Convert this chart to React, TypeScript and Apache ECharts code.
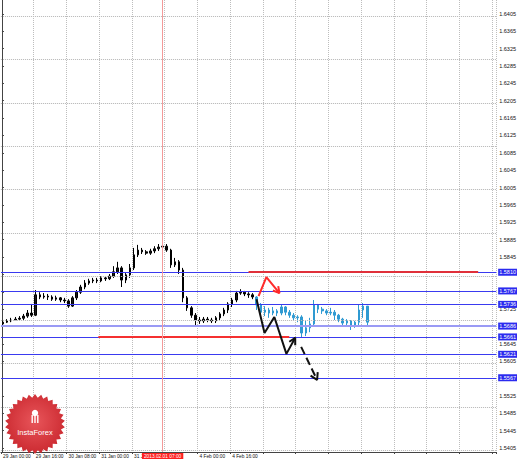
import React, { useEffect, useRef } from "react";
import * as echarts from "echarts";

// ---- data ----
const yTicks = [
  1.5405, 1.5445, 1.5485, 1.5525, 1.5565, 1.5605, 1.5645, 1.5685, 1.5725, 1.5765,
  1.5805, 1.5845, 1.5885, 1.5925, 1.5965, 1.6005, 1.6045, 1.6085, 1.6125, 1.6165,
  1.6205, 1.6245, 1.6285, 1.6325, 1.6365, 1.6405,
];
// tick labels that are hidden behind the level tags in the reference
const yHiddenLabels = [1.5565, 1.5685, 1.5765, 1.5805];
const xTickLabels = [
  "29 Jan 00:00", "29 Jan 16:00", "30 Jan 08:00", "31 Jan 00:00",
  "31 Jan 16:00", "", "4 Feb 00:00", "4 Feb 16:00",
];
const slotCount = 121; // 2-hour slots on the chart width
const labelEvery = 8;

// [open, close, low, high]
const blackBars = [
  [1.5691, 1.5695, 1.5688, 1.5698], [1.5695, 1.5698, 1.5693, 1.5702], [1.5698, 1.57, 1.5695, 1.5705],
  [1.57, 1.5702, 1.5698, 1.5707], [1.5702, 1.5704, 1.5698, 1.5709], [1.5704, 1.5709, 1.57, 1.5714],
  [1.5709, 1.5716, 1.5705, 1.5723], [1.5716, 1.5711, 1.5707, 1.5737], [1.5711, 1.5758, 1.5709, 1.5769],
  [1.5758, 1.5753, 1.5748, 1.5764], [1.5753, 1.5755, 1.5749, 1.5762], [1.5755, 1.5753, 1.5746, 1.576],
  [1.5753, 1.5748, 1.5744, 1.5757], [1.5748, 1.5751, 1.5744, 1.5756], [1.5751, 1.5746, 1.5741, 1.5753],
  [1.5746, 1.5744, 1.5739, 1.5751], [1.5744, 1.5732, 1.5728, 1.5748], [1.5732, 1.5751, 1.573, 1.5755],
  [1.5751, 1.5764, 1.5746, 1.5769], [1.5764, 1.5776, 1.576, 1.5781], [1.5776, 1.5785, 1.5771, 1.5792],
  [1.5785, 1.579, 1.5781, 1.5795], [1.579, 1.5792, 1.5785, 1.5797], [1.5792, 1.579, 1.5785, 1.5797],
  [1.579, 1.5797, 1.5787, 1.5801], [1.5797, 1.5795, 1.579, 1.5801], [1.5795, 1.5801, 1.5792, 1.5806],
  [1.5801, 1.5811, 1.5797, 1.5824], [1.5811, 1.582, 1.5806, 1.5834], [1.582, 1.5792, 1.5776, 1.5824],
  [1.5792, 1.5804, 1.5785, 1.5808], [1.5804, 1.582, 1.5797, 1.5829], [1.582, 1.585, 1.5815, 1.5866],
  [1.585, 1.5861, 1.5845, 1.5873], [1.5861, 1.5857, 1.5852, 1.5866], [1.5857, 1.5854, 1.585, 1.5861],
  [1.5854, 1.5859, 1.585, 1.5864], [1.5859, 1.5864, 1.5854, 1.587], [1.5864, 1.5868, 1.5859, 1.5875],
  [1.5868, 1.587, 1.5864, 1.5877], [1.587, 1.5861, 1.5857, 1.5875], [1.5861, 1.5827, 1.582, 1.5864],
  [1.5827, 1.5834, 1.5822, 1.5843], [1.5834, 1.5815, 1.5806, 1.5838], [1.5815, 1.5751, 1.5741, 1.582],
  [1.5751, 1.5728, 1.5721, 1.5755], [1.5728, 1.5711, 1.5705, 1.5732], [1.5711, 1.57, 1.5688, 1.5716],
  [1.57, 1.5698, 1.5691, 1.5707], [1.5698, 1.5702, 1.5693, 1.5707], [1.5702, 1.57, 1.5695, 1.5707],
  [1.57, 1.5698, 1.5693, 1.5705], [1.5698, 1.5705, 1.5693, 1.5709], [1.5705, 1.5714, 1.57, 1.5718],
  [1.5714, 1.5723, 1.5709, 1.5728], [1.5723, 1.5737, 1.5716, 1.5741], [1.5737, 1.5746, 1.573, 1.5751],
  [1.5746, 1.5762, 1.5741, 1.5767], [1.5762, 1.5764, 1.5758, 1.5771], [1.5764, 1.576, 1.5755, 1.5767],
  [1.576, 1.5758, 1.5751, 1.5764], [1.5758, 1.5753, 1.5748, 1.5762],
];
const forecastBars = [
  [1.5753, 1.5735, 1.5723, 1.5755], [1.5735, 1.5718, 1.5705, 1.5739], [1.5718, 1.5723, 1.5709, 1.5732],
  [1.5723, 1.5716, 1.5705, 1.5728], [1.5716, 1.5721, 1.5711, 1.573], [1.5721, 1.5716, 1.5709, 1.5725],
  [1.5716, 1.573, 1.5711, 1.5735], [1.573, 1.5718, 1.5711, 1.5732], [1.5718, 1.5711, 1.5705, 1.5723],
  [1.5711, 1.5705, 1.5698, 1.5716], [1.5705, 1.5707, 1.5695, 1.5711], [1.5707, 1.567, 1.5659, 1.5711],
  [1.567, 1.5682, 1.5663, 1.57], [1.5682, 1.5691, 1.5672, 1.5705], [1.5691, 1.5735, 1.5686, 1.5746],
  [1.5735, 1.5725, 1.5716, 1.5737], [1.5725, 1.5721, 1.5714, 1.573], [1.5721, 1.5716, 1.5711, 1.5725],
  [1.5716, 1.5718, 1.5711, 1.5728], [1.5718, 1.5711, 1.57, 1.5723], [1.5711, 1.5702, 1.5695, 1.5714],
  [1.5702, 1.5693, 1.5686, 1.5705], [1.5693, 1.5698, 1.5686, 1.5702], [1.5698, 1.5688, 1.5677, 1.57],
  [1.5688, 1.5695, 1.5682, 1.5698], [1.5695, 1.5723, 1.5688, 1.5735], [1.5723, 1.5732, 1.5705, 1.5739],
  [1.5732, 1.5695, 1.5684, 1.5711],
];

const levelLines = [1.581, 1.5767, 1.5736, 1.5686, 1.5661, 1.5621, 1.5567];
const bidLevel = 1.5751;
const markerTime = "2013.02.01 07:00";
const markerHour = 78.5; // on hourly scale

// arrows on hourly scale [hour, price]
const redPath = [[125.4, 1.5755], [129.2, 1.5799], [135.6, 1.5762]];
const redHead = [[135.0, 1.5778], [135.6, 1.5762], [132.4, 1.5768]];
const blackPath = [[124.4, 1.5748], [128.3, 1.567], [133.1, 1.5707], [139.0, 1.5622], [143.3, 1.5659]];
const blackHead = [[140.4, 1.565], [143.3, 1.5659], [143.3, 1.5642]];
const dashPath = [[146.2, 1.5638], [154.0, 1.5562]];
const dashHead = [[154.3, 1.558], [154.0, 1.5562], [150.8, 1.5572]];
const redSupport = { price: 1.5661, from: 47.1, to: 140.4 };
const redResist = { price: 1.581, from: 120.5, to: 232.7 };

export default function App() {
  const ref = useRef<HTMLDivElement>(null);
  useEffect(() => {
    if (!ref.current) return;
    const chart = echarts.init(ref.current, null, { renderer: "svg" });
    const categories = Array.from({ length: slotCount }, (_, i) => String(i));
    const cyan = "#2f9ad2";
    const candleData: any[] = blackBars.map((b) => ({ value: b }));
    forecastBars.forEach((b) =>
      candleData.push({
        value: b,
        itemStyle: { color: cyan, color0: cyan, borderColor: cyan, borderColor0: cyan },
      })
    );
    const lineSeries = (data: number[][], color: string, type: string = "solid", z = 6) => ({
      type: "line",
      xAxisIndex: 1,
      yAxisIndex: 0,
      data,
      symbol: "none",
      silent: true,
      z,
      lineStyle: { color, width: 2, type },
    });
    const cx = 35, cy = 424, rO = 30, rI = 26.5, n = 30;
    const star: number[][] = [];
    for (let i = 0; i < n * 2; i++) {
      const a = (Math.PI * i) / n - Math.PI / 2;
      const r = i % 2 === 0 ? rO : rI;
      star.push([cx + r * Math.cos(a), cy + r * Math.sin(a)]);
    }
    const yLabelValues = yTicks.filter((v) => yHiddenLabels.indexOf(v) < 0);
    const option: any = {
      animation: false,
      backgroundColor: "#ffffff",
      textStyle: { fontFamily: "Liberation Sans" },
      grid: { left: 0, right: 21, top: 0, bottom: 9, containLabel: false },
      xAxis: [
        {
          type: "category",
          data: categories,
          boundaryGap: true,
          axisLine: { lineStyle: { color: "#444", width: 1 } },
          axisTick: { show: true, interval: (i: number) => i % labelEvery === 0, length: 2, lineStyle: { color: "#444" } },
          axisLabel: {
            interval: 0,
            align: "left",
            fontSize: 4.8,
            color: "#111",
            margin: 2,
            formatter: (_v: string, i: number) =>
              i % labelEvery === 0 && xTickLabels[i / labelEvery] ? xTickLabels[i / labelEvery] : "",
          },
          splitLine: {
            show: true,
            interval: (i: number) => i % labelEvery === 0 && i > 0,
            lineStyle: { color: "#bdbdbd", type: "dotted", width: 1 },
          },
        },
        { type: "value", min: -0.5, max: slotCount * 2 - 0.5, show: false },
      ],
      yAxis: {
        type: "value",
        position: "right",
        min: 1.5396,
        max: 1.6437,
        axisLine: { show: true, lineStyle: { color: "#444", width: 1 } },
        axisTick: { show: true, customValues: yTicks, length: 2, lineStyle: { color: "#444" } },
        axisLabel: { customValues: yLabelValues, fontSize: 5.5, color: "#111", margin: 3, formatter: (v: number) => v.toFixed(4) },
        splitLine: { show: false },
      },
      series: [
        {
          type: "line",
          xAxisIndex: 1,
          data: [],
          z: 1,
          silent: true,
          markLine: {
            silent: true,
            symbol: "none",
            label: { show: false },
            lineStyle: { color: "#bdbdbd", type: "dotted", width: 1 },
            data: yTicks.map((v) => ({ yAxis: v })),
          },
        },
        {
          type: "line",
          xAxisIndex: 1,
          data: [],
          z: 2,
          silent: true,
          markLine: {
            silent: true,
            symbol: "none",
            precision: 4,
            label: {
              show: true,
              position: "end",
              distance: 2,
              fontSize: 5.5,
              color: "#fff",
              backgroundColor: "#2b2bef",
              padding: [1, 1, 0, 1],
              formatter: (p: any) => Number(p.value).toFixed(4),
            },
            lineStyle: { color: "#3a3af0", type: "solid", width: 1 },
            data: [
              ...levelLines.map((v) =>
                v === 1.5686
                  ? { yAxis: v, lineStyle: { color: "#9a9af5", width: 2, type: "solid" } }
                  : { yAxis: v, lineStyle: { color: "#3a3af0", width: 1, type: "solid" } }
              ),
              {
                yAxis: bidLevel,
                lineStyle: { opacity: 0 },
                label: { backgroundColor: "#2a2a2a", color: "#ddd" },
              },
              [
                { coord: [redSupport.from, redSupport.price], lineStyle: { color: "#f53030", width: 2, type: "solid" }, label: { show: false } },
                { coord: [redSupport.to, redSupport.price] },
              ],
              [
                { coord: [redResist.from, redResist.price], lineStyle: { color: "#e0303a", width: 2, type: "solid" }, label: { show: false } },
                { coord: [redResist.to, redResist.price] },
              ],
              {
                xAxis: markerHour,
                lineStyle: { color: "#f39a9a", width: 1, type: "solid" },
                label: {
                  show: true,
                  position: "start",
                  distance: 1,
                  fontSize: 4.8,
                  color: "#fff",
                  backgroundColor: "#ff1f1f",
                  padding: [1, 2, 0, 2],
                  formatter: () => markerTime,
                },
              },
            ],
          },
        },
        {
          type: "candlestick",
          xAxisIndex: 0,
          yAxisIndex: 0,
          z: 3,
          barWidth: "50%",
          silent: true,
          itemStyle: { color: "#1a1a1a", color0: "#000000", borderColor: "#000000", borderColor0: "#000000", borderWidth: 1 },
          data: candleData,
        },
        lineSeries(redPath, "#ff2b2b"),
        lineSeries(redHead, "#ff2b2b"),
        lineSeries(blackPath, "#111111"),
        lineSeries(blackHead, "#111111"),
        lineSeries(dashPath, "#111111", "dashed"),
        lineSeries(dashHead, "#111111"),
      ],
      graphic: [
        {
          type: "polygon",
          z: 10,
          shape: { points: star },
          style: {
            fill: new echarts.graphic.RadialGradient(0.5, 0.45, 0.6, [
              { offset: 0, color: "#e8555a" },
              { offset: 1, color: "#c9262d" },
            ]),
          },
        },
        { type: "circle", z: 11, shape: { cx: 35, cy: 413, r: 3.2 }, style: { fill: "#ffffff" } },
        { type: "rect", z: 11, shape: { x: 31.5, y: 415, width: 1.4, height: 8 }, style: { fill: "#ffffff" } },
        { type: "rect", z: 11, shape: { x: 34.3, y: 415, width: 1.4, height: 8 }, style: { fill: "#ffffff" } },
        { type: "rect", z: 11, shape: { x: 37.1, y: 415, width: 1.4, height: 8 }, style: { fill: "#ffffff" } },
        {
          type: "text",
          z: 11,
          x: 35,
          y: 432,
          style: {
            text: "InstaForex",
            fill: "#ffffff",
            fontSize: 7.5,
            fontFamily: "Liberation Sans",
            textAlign: "center",
            textVerticalAlign: "middle",
          },
        },
      ],
    };
    chart.setOption(option);
    return () => chart.dispose();
  }, []);
  return (
    <div
      ref={ref}
      style={{ position: "fixed", left: 0, top: 0, width: 519, height: 461, background: "#fff" }}
    />
  );
}
